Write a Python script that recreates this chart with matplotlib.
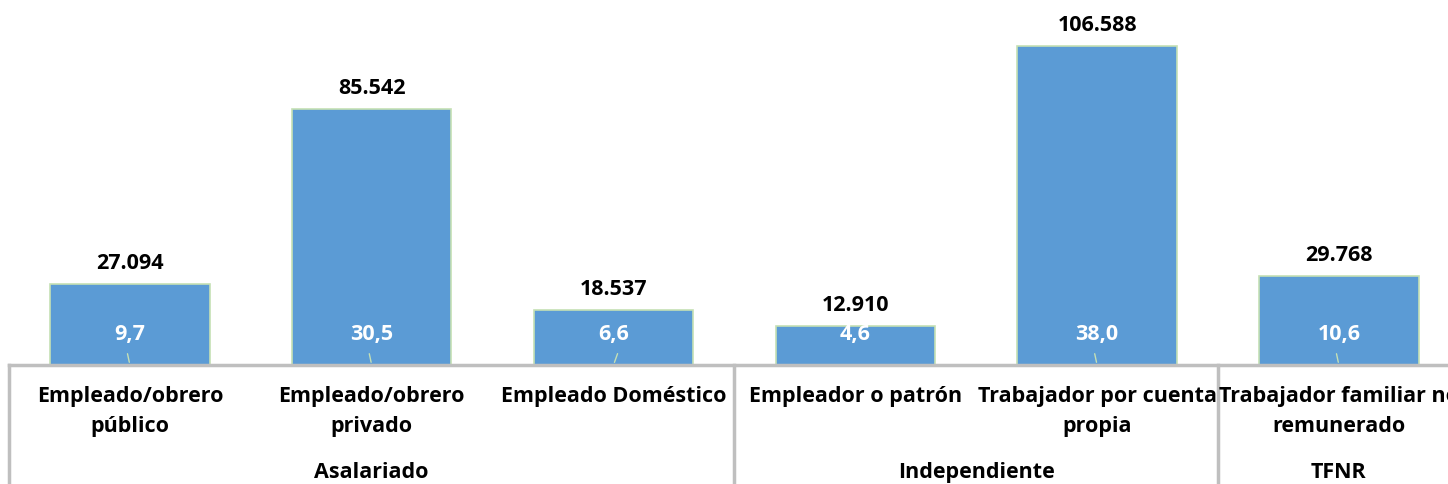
#!/usr/bin/env python3
import matplotlib
matplotlib.use("Agg")
import matplotlib.pyplot as plt

# data
categories = ["Empleado/obrero\npúblico", "Empleado/obrero\nprivado", "Empleado Doméstico",
              "Empleador o patrón", "Trabajador por cuenta\npropia",
              "Trabajador familiar no\nremunerado"]
values = [27094, 85542, 18537, 12910, 106588, 29768]
value_labels = ["27.094", "85.542", "18.537", "12.910", "106.588", "29.768"]
pct_labels = ["9,7", "30,5", "6,6", "4,6", "38,0", "10,6"]
groups = ["Asalariado", "Independiente", "TFNR"]
group_spans = [(0, 3), (3, 5), (5, 6)]

W, H = 1448, 485
base_px = 366
slot = 241.8
fs = 15.5

plt.rcParams['font.family'] = ['Open Sans', 'DejaVu Sans']

fig = plt.figure(figsize=(W / 100, H / 100), dpi=100)
ax = fig.add_axes([9 / W, (H - base_px) / H, slot * 6 / W, base_px / H])

x = list(range(len(values)))
ax.bar(x, values, width=0.66, color="#5B9BD5", edgecolor="#C5E0B4", linewidth=1.2, zorder=2)
ax.set_xlim(-0.5, 5.5)
ax.set_ylim(0, 106588 * base_px / 319)
ax.axis("off")

# helper: pixels below baseline -> axes fraction
def ay(px_below_base):
    return -px_below_base / base_px

for i, v in enumerate(values):
    ax.annotate(value_labels[i], (i, v), xytext=(0, 11), textcoords="offset pixels",
                ha="center", va="bottom", fontsize=fs, fontweight="bold", color="black")
    ax.annotate(pct_labels[i], (i, 0), xytext=(0, 31), textcoords="offset pixels",
                ha="center", va="center", fontsize=fs, fontweight="bold", color="white",
                zorder=4)
    if i != 3:
        ax.annotate("", (i, 0), xytext=(-3 if i != 2 else 5, 14), textcoords="offset pixels",
                    arrowprops=dict(arrowstyle="-", color="#C5E0B4", lw=1), zorder=3)

tr = ax.get_xaxis_transform()
# baseline and separators
ax.plot([-0.5, 5.5], [0, 0], color="#BFBFBF", lw=2.5, transform=tr, clip_on=False, zorder=3)
for b in [-0.5, 2.5, 4.5]:
    ax.plot([b, b], [0, ay(125)], color="#BFBFBF", lw=2.5, transform=tr, clip_on=False)

for i, c in enumerate(categories):
    ax.text(i, ay(20), c, transform=tr, ha="center", va="top", fontsize=fs,
            fontweight="bold", linespacing=1.55, multialignment="center")

for g, (a, b) in zip(groups, group_spans):
    ax.text((a + b - 1) / 2, ay(107), g, transform=tr, ha="center", va="center",
            fontsize=fs, fontweight="bold")

fig.savefig("out.png", dpi=100)
